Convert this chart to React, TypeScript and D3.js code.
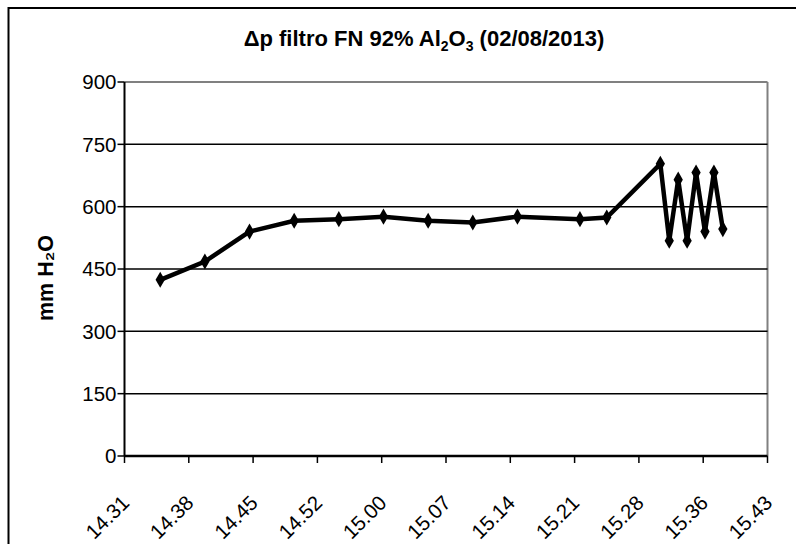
import React from "react";
import * as d3 from "d3";

// Sample times (h:mm) and Δp values (mm H2O)
const TIMES = [
  "14:35", "14:40", "14:45", "14:50", "14:55", "15:00", "15:05", "15:10",
  "15:15", "15:22", "15:25", "15:31", "15:32", "15:33", "15:34", "15:35",
  "15:36", "15:37", "15:38",
];
const VALUES = [
  424, 468, 540, 566, 570, 576, 566, 562, 576, 570, 574, 703, 518, 665, 518,
  682, 540, 682, 546,
];
const Y_TICKS = [0, 150, 300, 450, 600, 750, 900];
const X_TICK_LABELS = [
  "14.31", "14.38", "14.45", "14.52", "15.00", "15.07", "15.14", "15.21",
  "15.28", "15.36", "15.43",
];
const X_START = "14:31";
const X_END = "15:43";

function toMin(t: string): number {
  const [h, m] = t.split(":").map(Number);
  return h * 60 + m;
}

export default function App() {
  const W = 796;
  const H = 544;
  const left = 124.5;
  const right = 767.5;
  const top = 82;
  const bottom = 456;

  const x = d3
    .scaleLinear()
    .domain([toMin(X_START), toMin(X_END)])
    .range([left, right]);
  const y = d3.scaleLinear().domain([0, 900]).range([bottom, top]);

  const pts: [number, number][] = TIMES.map((t, i) => [x(toMin(t)), y(VALUES[i])]);
  const linePath = d3.line()(pts) || "";

  const [d0, d1] = x.domain();
  const xTickVals = X_TICK_LABELS.map(
    (_, i) => d0 + (i * (d1 - d0)) / (X_TICK_LABELS.length - 1)
  );

  const diamond = d3.symbol().type(d3.symbolDiamond).size(75)() || "";
  const font = "'Liberation Sans', Arial, sans-serif";

  return (
    <svg
      width={W}
      height={H}
      style={{ position: "absolute", left: 0, top: 0, background: "#fff" }}
    >
      <rect x={0} y={0} width={W} height={H} fill="#fff" />
      {/* chart frame */}
      <rect x={8.5} y={8} width={W + 50} height={H + 50} fill="none" stroke="#000" strokeWidth={2} />

      {/* title */}
      <text
        x={424}
        y={46}
        textAnchor="middle"
        fontFamily={font}
        fontWeight="bold"
        fontSize={22}
        fill="#000"
      >
        Δp filtro FN 92% Al
        <tspan fontSize={14} dy={5}>2</tspan>
        <tspan dy={-5}>O</tspan>
        <tspan fontSize={14} dy={5}>3</tspan>
        <tspan dy={-5}> (02/08/2013)</tspan>
      </text>

      {/* plot area border */}
      <line x1={left} x2={right} y1={top} y2={top} stroke="#808080" strokeWidth={2} />
      <line x1={right} x2={right} y1={top} y2={bottom} stroke="#808080" strokeWidth={2} />

      {/* gridlines */}
      {Y_TICKS.filter((v) => v !== 0 && v !== 900).map((v) => (
        <line key={"g" + v} x1={left} x2={right} y1={y(v)} y2={y(v)} stroke="#000" strokeWidth={1.5} />
      ))}

      {/* y axis */}
      <line x1={left} x2={left} y1={top} y2={bottom} stroke="#000" strokeWidth={2} />
      {Y_TICKS.map((v) => (
        <g key={"y" + v}>
          <line x1={left - 7} x2={left} y1={y(v)} y2={y(v)} stroke="#000" strokeWidth={1.5} />
          <text
            x={left - 8}
            y={y(v)}
            dy="0.36em"
            textAnchor="end"
            fontFamily={font}
            fontSize={20.5}
            fill="#000"
          >
            {v}
          </text>
        </g>
      ))}

      {/* x axis */}
      <line x1={left} x2={right} y1={bottom} y2={bottom} stroke="#000" strokeWidth={2.5} />
      {xTickVals.map((v, i) => (
        <g key={"x" + i}>
          <line x1={x(v)} x2={x(v)} y1={bottom} y2={bottom + 7} stroke="#000" strokeWidth={1.5} />
          <text
            transform={`translate(${x(v) + 1},${bottom + 43}) rotate(-45)`}
            dy="0.35em"
            textAnchor="end"
            fontFamily={font}
            fontSize={20.5}
            fill="#000"
          >
            {X_TICK_LABELS[i]}
          </text>
        </g>
      ))}

      {/* y axis title */}
      <text
        transform={`translate(53,${(top + bottom) / 2 + 9}) rotate(-90)`}
        textAnchor="middle"
        fontFamily={font}
        fontWeight="bold"
        fontSize={21.5}
        fill="#000"
      >
        mm H₂O
      </text>

      {/* series */}
      <path d={linePath} fill="none" stroke="#000" strokeWidth={4.5} strokeLinejoin="miter" />
      {pts.map((p, i) => (
        <path key={"m" + i} d={diamond} transform={`translate(${p[0]},${p[1]})`} fill="#000" />
      ))}
    </svg>
  );
}
